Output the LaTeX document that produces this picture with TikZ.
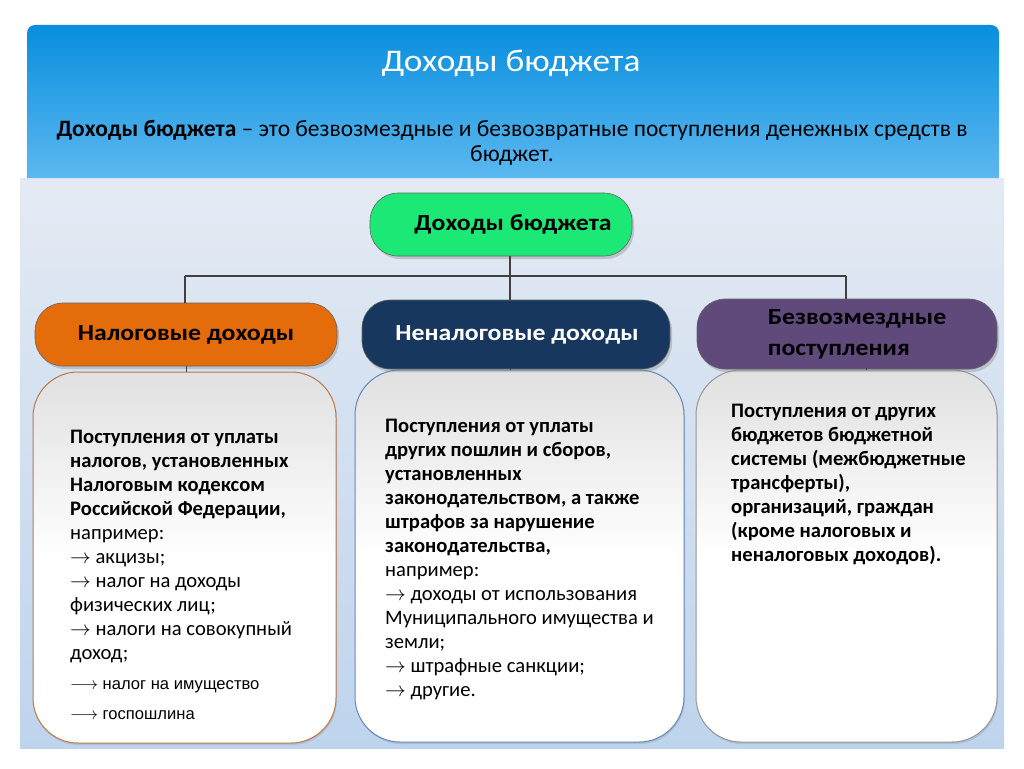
\documentclass[tikz,border=0pt]{standalone}
\usepackage{fontspec}
\setmainfont{Carlito}
\newfontfamily\arialfont{Liberation Sans}
\newfontfamily\widefont[FakeStretch=1.12]{Carlito}
\usetikzlibrary{shadows}
\definecolor{bluetop}{RGB}{8,142,221}
\definecolor{bluebot}{RGB}{92,184,240}
\definecolor{bgtop}{RGB}{228,234,243}
\definecolor{bgbot}{RGB}{190,212,237}
\definecolor{rootgreen}{RGB}{28,232,118}
\definecolor{taxorange}{RGB}{228,108,10}
\definecolor{navyblue}{RGB}{23,55,94}
\definecolor{purplebox}{RGB}{96,74,123}
\definecolor{linegray}{RGB}{64,64,64}
\definecolor{edgeorange}{RGB}{190,120,70}
\definecolor{edgeblue}{RGB}{100,135,190}
\definecolor{edgegray}{RGB}{150,150,155}
\newcommand{\myarr}{\(\rightarrow\)}
\tikzset{
  headbox/.style={rounded corners=28pt, draw=black!60, line width=0.6pt,
    drop shadow={shadow xshift=2pt, shadow yshift=-3pt, opacity=.35},
    font=\widefont\fontsize{23}{27}\selectfont\bfseries, inner sep=0pt},
  bodybox/.style={rounded corners=45pt, line width=1pt, top color=black!12, bottom color=white, middle color=white,
    drop shadow={shadow xshift=1pt, shadow yshift=-2pt, opacity=.25}, inner sep=0pt},
  bodytext/.style={anchor=north west, inner sep=0pt, align=left, font=\fontsize{20.6}{24}\selectfont},
  conn/.style={draw=linegray, line width=1.2pt}
}
\begin{document}
\begin{tikzpicture}[x=1pt,y=-1pt]
\useasboundingbox (0,0) rectangle (1024,768);
\fill[white] (0,0) rectangle (1024,768);
% lower panel
\shade[top color=bgtop, bottom color=bgbot] (20,178) rectangle (1004,748);
% top panel
\shade[top color=bluetop, bottom color=bluebot] (27,178) [rounded corners=8pt] -- (27,25) -- (999,25) [sharp corners] -- (999,178) -- cycle;
\node[text=white, font=\widefont\fontsize{31.5}{36}\selectfont] (title) at (511,63) {Доходы бюджета};
\node[align=center, font=\fontsize{23.5}{25}\selectfont] (def) at (512,143) {\textbf{Доходы бюджета} – это безвозмездные и безвозвратные поступления денежных средств в\\бюджет.};
% connectors
\coordinate (busL) at (185,276);
\coordinate (busM) at (510,276);
\coordinate (busR) at (846,276);
% body boxes
\node[bodybox, draw=edgeorange, minimum width=303pt, minimum height=371pt] (taxbody) at (184.5,557.5) {};
\node[bodybox, draw=edgeblue, minimum width=329pt, minimum height=372pt] (nontaxbody) at (519.5,556) {};
\node[bodybox, draw=edgegray, minimum width=301pt, minimum height=372pt] (freebody) at (846.5,556) {};
% header boxes
\node[headbox, fill=rootgreen, minimum width=262pt, minimum height=63pt, text=black] (root) at (501,224.5) {\hspace*{24pt}Доходы бюджета};
\path[conn] (busM |- root.south) -- (busM);
\path[conn] (busL) -- (busR);
\node[headbox, fill=taxorange, minimum width=302pt, minimum height=63pt, text=black] (tax) at (186,334.5) {Налоговые доходы};
\node[headbox, fill=navyblue, minimum width=308pt, minimum height=69pt, text=white] (nontax) at (516,334.5) {\hspace*{2pt}Неналоговые доходы};
\node[headbox, fill=purplebox, minimum width=300pt, minimum height=70pt, text=black, align=left, font=\widefont\fontsize{23}{31}\selectfont\bfseries] (free) at (847,334) {\hspace*{20pt}Безвозмездные\\\hspace*{20pt}поступления};
\path[conn] (busL) -- (busL |- tax.north);
\path[conn] (busM) -- (busM |- nontax.north);
\path[conn] (busR) -- (busR |- free.north);
\path[conn, line width=0.8pt] (tax.south) -- (tax.south |- taxbody.north);
\path[conn, line width=0.8pt] (busM |- nontax.south) -- (busM |- nontaxbody.north);
\coordinate (rtick) at (866,368);
\path[conn, line width=0.8pt] (rtick) -- (rtick |- freebody.north);
% body texts
\node[bodytext] (taxtext) at (70,430) {\textbf{Поступления от уплаты}\\\textbf{налогов, установленных}\\\textbf{Налоговым кодексом}\\\textbf{Российской Федерации,}\\например:\\\myarr{} акцизы;\\\myarr{} налог на доходы\\физических лиц;\\\myarr{} налоги на совокупный\\доход;\\[6pt]{\arialfont\fontsize{16.6}{24}\selectfont\(\longrightarrow\) налог на имущество}\\[6pt]{\arialfont\fontsize{16.6}{24}\selectfont\(\longrightarrow\) госпошлина}};
\node[bodytext] (nontaxtext) at (385,419) {\textbf{Поступления от уплаты}\\\textbf{других пошлин и сборов,}\\\textbf{установленных}\\\textbf{законодательством, а также}\\\textbf{штрафов за нарушение}\\\textbf{законодательства,}\\например:\\\myarr{} доходы от использования\\Муниципального имущества и\\земли;\\\myarr{} штрафные санкции;\\\myarr{} другие.};
\node[bodytext] (freetext) at (731,404) {\textbf{Поступления от других}\\\textbf{бюджетов бюджетной}\\\textbf{системы (межбюджетные}\\\textbf{трансферты),}\\\textbf{организаций, граждан}\\\textbf{(кроме налоговых и}\\\textbf{неналоговых доходов).}};
\end{tikzpicture}
\end{document}
